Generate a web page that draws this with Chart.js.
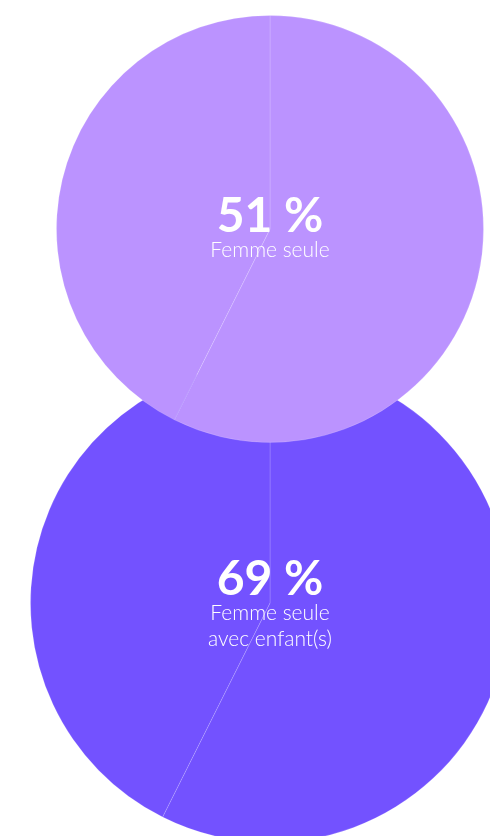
<!DOCTYPE html>
<html>
<head>
<meta charset="utf-8">
<script src="https://cdn.jsdelivr.net/npm/chart.js@4"></script>
<style>
  html, body { margin: 0; padding: 0; background: #fff; overflow: hidden; width: 490px; height: 836px; }
  canvas { position: absolute; }
  #top { left: 56px; top: 15px; z-index: 2; }
  #bottom { left: 30px; top: 363px; z-index: 1; }
</style>
</head>
<body>
<canvas id="bottom" width="480" height="480"></canvas>
<canvas id="top" width="428" height="428"></canvas>
<script>
// values shown in the centre of each pie
const percents = [51, 69];
const labels = [["Femme seule"], ["Femme seule", "avec enfant(s)"]];
// slice split as drawn (same in both pies)
const slicesTop = [57.4, 42.6];
const slicesBottom = [57.4, 42.6];
const colors = ["#BB93FF", "#7352FF"];

// writes the big number + caption in the middle of the pie
const centerText = {
  id: "centerText",
  afterDraw(chart, args, opts) {
    const ctx = chart.ctx;
    const meta = chart.getDatasetMeta(0).data[0];
    const x = meta.x, y = meta.y;
    ctx.save();
    ctx.fillStyle = "#fff";
    ctx.textAlign = "center";
    ctx.textBaseline = "alphabetic";
    ctx.font = "bold 48px Lato";
    ctx.fillText(opts.value + " %", x, y + opts.dy);
    ctx.font = "300 21px Lato";
    opts.lines.forEach((l, i) => {
      ctx.fillText(l, x, y + opts.dy + 25 + i * 26);
    });
    ctx.restore();
  }
};

function makePie(id, data, color, value, lines, dy) {
  new Chart(document.getElementById(id), {
    type: "pie",
    data: {
      labels: ["a", "b"],
      datasets: [{
        data: data,
        backgroundColor: [color, color],
        borderColor: "rgba(255,255,255,0.16)",
        borderWidth: 1,
      }],
    },
    options: {
      responsive: false,
      animation: false,
      layout: { padding: 0 },
      plugins: {
        legend: { display: false },
        tooltip: { enabled: false },
        centerText: { value: value, lines: lines, dy: dy },
      },
    },
    plugins: [centerText],
  });
}

makePie("top", slicesTop, colors[0], percents[0], labels[0], 3);
makePie("bottom", slicesBottom, colors[1], percents[1], labels[1], -8);
</script>
</body>
</html>
